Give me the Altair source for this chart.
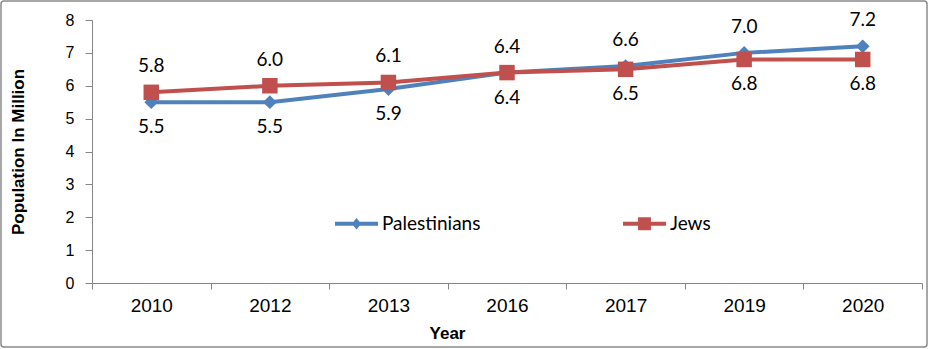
import altair as alt
import pandas as pd

years = ["2010", "2012", "2013", "2016", "2017", "2019", "2020"]
palestinians = [5.5, 5.5, 5.9, 6.4, 6.6, 7.0, 7.2]
jews = [5.8, 6.0, 6.1, 6.4, 6.5, 6.8, 6.8]
series_names = ["Palestinians", "Jews"]
series_colors = ["#4F81BD", "#C0504D"]
series_shapes = ["diamond", "square"]
series_sizes = [190, 240]

rows = []
for i, yr in enumerate(years):
    p, j = palestinians[i], jews[i]
    rows.append({"year": yr, "series": "Palestinians", "value": p, "above": bool(p > j)})
    rows.append({"year": yr, "series": "Jews", "value": j, "above": bool(j >= p)})
df = pd.DataFrame(rows)

W, H = 830, 263
AXIS_GRAY = "#868686"

x_enc = alt.X(
    "year:O", sort=years,
    scale=alt.Scale(type="band", paddingInner=0, paddingOuter=0),
    axis=alt.Axis(title="Year", labelAngle=0, tickBand="extent", tickSize=6,
                  labelPadding=7, labelFont="Liberation Sans", labelFontSize=19,
                  titleFont="Liberation Sans", titleFontSize=17, titleFontWeight="bold",
                  titleX=355, titleY=50, titleBaseline="middle", titleAlign="center"),
)
y_enc = alt.Y(
    "value:Q", scale=alt.Scale(domain=[0, 8], nice=False),
    axis=alt.Axis(title="Population In Million", values=[0, 1, 2, 3, 4, 5, 6, 7, 8],
                  grid=False, tickSize=7, labelPadding=11,
                  labelFont="Liberation Sans", labelFontSize=16,
                  titleFont="Liberation Sans", titleFontSize=17, titleFontWeight="bold",
                  titleAngle=-90, titleX=-74, titleY=H / 2, titleBaseline="middle",
                  titleAlign="center"),
)

frame = alt.Chart(alt.Data(values=[{"a": 1}])).mark_rect(
    fill="transparent", stroke="#8a8a8a", strokeWidth=1.5, cornerRadius=3
).encode(x=alt.value(-91), x2=alt.value(835), y=alt.value(-19), y2=alt.value(327))

layers = [frame]
for name, color, shape, size in zip(series_names, series_colors, series_shapes, series_sizes):
    base = alt.Chart(df).transform_filter(alt.datum.series == name)
    layers.append(base.mark_line(color=color, strokeWidth=4).encode(x=x_enc, y=y_enc))
    layers.append(base.mark_point(color=color, filled=True, opacity=1, shape=shape, size=size)
                  .encode(x=x_enc, y=y_enc))

path_p = "M-1,-0.093L1,-0.093L1,0.093L-1,0.093Z M0,-0.27L0.22,0L0,0.27L-0.22,0Z"
path_j = "M-1,-0.093L1,-0.093L1,0.093L-1,0.093Z M-0.3,-0.3L0.3,-0.3L0.3,0.3L-0.3,0.3Z"

leg = alt.Legend(title=None, orient="none", legendX=243, legendY=182, direction="horizontal",
                 symbolSize=1849, symbolOpacity=1, symbolStrokeWidth=0, padding=0,
                 labelFont="Lato", labelFontSize=19, labelColor="black", labelOffset=4,
                 columnPadding=142, labelLimit=300)
legend_layer = alt.Chart(df).mark_point(opacity=0, filled=True).encode(
    x=x_enc, y=y_enc,
    color=alt.Color("series:N", scale=alt.Scale(domain=series_names, range=series_colors), legend=leg),
    shape=alt.Shape("series:N", scale=alt.Scale(domain=series_names, range=[path_p, path_j]), legend=leg),
)
layers.append(legend_layer)

lab_base = alt.Chart(df)
labels_above = lab_base.transform_filter(alt.datum.above == True).mark_text(
    font="Lato", fontSize=19, color="black", dy=-26
).encode(x=x_enc, y=y_enc, text=alt.Text("value:Q", format=".1f"))
labels_below = lab_base.transform_filter(alt.datum.above == False).mark_text(
    font="Lato", fontSize=19, color="black", dy=25
).encode(x=x_enc, y=y_enc, text=alt.Text("value:Q", format=".1f"))
layers += [labels_above, labels_below]

chart = alt.layer(*layers).properties(
    width=W, height=H,
    autosize=alt.AutoSizeParams(type="none"),
    padding={"left": 92, "top": 20, "right": 6, "bottom": 66},
    background="white",
).configure_view(stroke=None).configure_axis(
    domainColor=AXIS_GRAY, tickColor=AXIS_GRAY, labelColor="black", titleColor="black",
    domainWidth=1, tickWidth=1,
)

chart.save("out.html", embed_options={"renderer": "svg", "actions": False})
